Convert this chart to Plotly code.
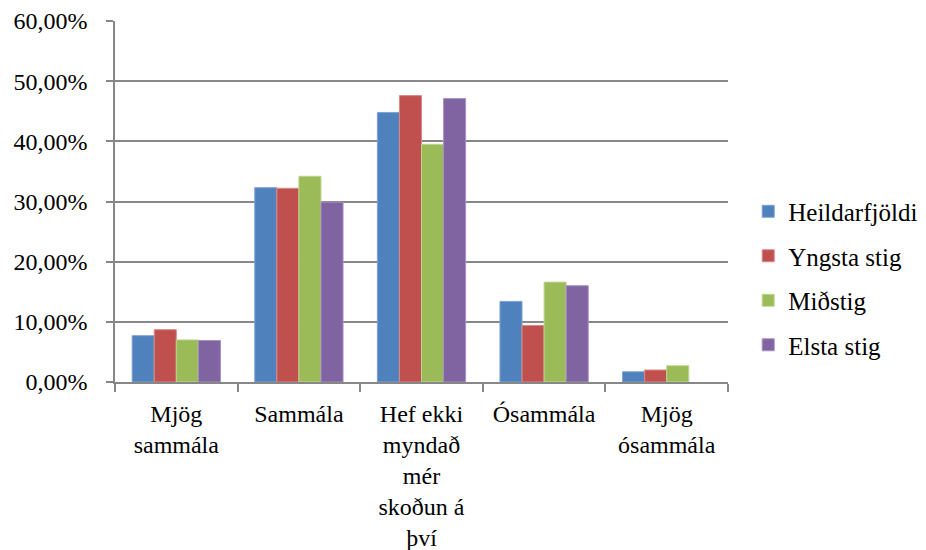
import plotly.graph_objects as go

categories = ["Mjög<br>sammála", "Sammála", "Hef ekki<br>myndað<br>mér<br>skoðun á<br>því", "Ósammála", "Mjög<br>ósammála"]
series_names = ["Heildarfjöldi", "Yngsta stig", "Miðstig", "Elsta stig"]
heildarfjoldi = [0.077, 0.323, 0.448, 0.134, 0.017]
yngsta_stig = [0.087, 0.322, 0.476, 0.094, 0.020]
midstig = [0.070, 0.342, 0.395, 0.166, 0.027]
elsta_stig = [0.069, 0.299, 0.471, 0.160, 0.0]
y_ticks = [0, 0.1, 0.2, 0.3, 0.4, 0.5, 0.6]
y_tick_labels = ["0,00%", "10,00%", "20,00%", "30,00%", "40,00%", "50,00%", "60,00%"]

colors = ["#4F81BD", "#C0504D", "#9BBB59", "#8064A2"]
edge = ["#7FA3D1", "#D98A88", "#BDD68F", "#A690C2"]
values = [heildarfjoldi, yngsta_stig, midstig, elsta_stig]

fig = go.Figure()
for i, (name, vals) in enumerate(zip(series_names, values)):
    fig.add_trace(go.Bar(
        x=categories, y=vals, name=name, legendgroup=name,
        marker=dict(color=colors[i],
                    line=dict(color=edge[i], width=[1 if v > 0 else 0 for v in vals])),
    ))

font_family = "'Times New Roman', 'Liberation Serif', 'DejaVu Serif', serif"
fig.update_layout(
    width=918, height=542,
    margin=dict(l=107, r=198, t=13, b=168, autoexpand=False),
    paper_bgcolor="white", plot_bgcolor="white",
    barmode="group", bargap=0.28, bargroupgap=0,
    font=dict(family=font_family, size=22, color="black"),
    legend=dict(
        x=1.033, xanchor="left", y=0.288, yanchor="middle",
        font=dict(family=font_family, size=25, color="black"),
        tracegroupgap=9, traceorder="grouped",
        bgcolor="rgba(0,0,0,0)",
    ),
    showlegend=True,
)
fig.update_yaxes(
    range=[0, 0.6], tickvals=y_ticks, ticktext=y_tick_labels,
    showgrid=True, gridcolor="#878787", gridwidth=1.5,
    showline=True, linecolor="#878787", linewidth=1.5,
    ticks="outside", ticklen=7, tickcolor="#878787", tickwidth=1.5,
    ticklabelstandoff=14,
    tickfont=dict(family=font_family, size=24, color="black"), zeroline=False,
    automargin=False,
)
fig.update_xaxes(
    showline=True, linecolor="#878787", linewidth=1.5,
    ticks="outside", ticklen=8, tickcolor="#878787", tickwidth=1.5,
    ticklabelstandoff=9,
    tickson="boundaries", tickfont=dict(family=font_family, size=24, color="black"),
    automargin=False,
)

fig.write_html("out.html")
